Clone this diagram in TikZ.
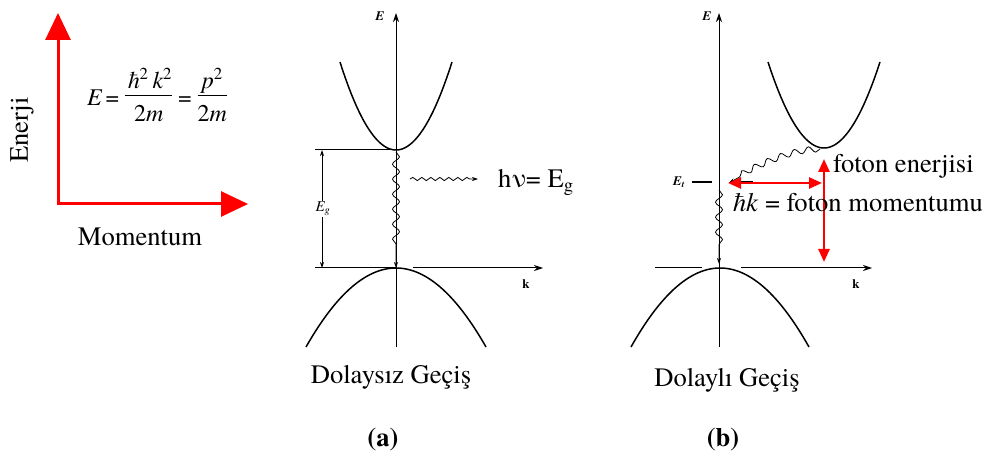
\documentclass[tikz,border=0pt]{standalone}
\usepackage{fontspec}
\setmainfont{TeX Gyre Termes}
\usetikzlibrary{arrows.meta,decorations.pathmorphing}
\begin{document}
\begin{tikzpicture}[x=1pt,y=-1pt,
  big/.style={font=\fontsize{26.6}{30}\selectfont, inner sep=0pt},
  lab/.style={font=\fontsize{13}{15}\selectfont\bfseries\itshape, inner sep=1pt},
  band/.style={line width=1.5pt},
  axline/.style={line width=1pt},
  ax/.style={line width=1pt,-{Stealth[length=9pt,width=6pt]}},
  smalltip/.style={-{Stealth[length=6pt,width=4pt]}},
  redaxes/.style={red,line width=3pt,{Triangle[length=27pt,width=25pt]}-{Triangle[length=27pt,width=25pt]}},
  redarr/.style={red,line width=2.5pt,{Triangle[length=13pt,width=11pt]}-{Triangle[length=13pt,width=11pt]}},
  wave/.style={decorate,decoration={snake,amplitude=3.5pt,segment length=15pt,post length=#1}},
  wave/.default=6pt
]
\useasboundingbox (0,0) rectangle (999,457);

% ---- left: red axes ----
\coordinate (eT) at (58,13);
\coordinate (o) at (58,204);
\coordinate (mR) at (248,204);
\draw[redaxes] (eT) -- (o) -- (mR);
\node[big, rotate=90] (enerji) at (22,130) {Enerji};
\node[big] (mom) at (140,237) {Momentum};
\node[font=\fontsize{24}{28}\selectfont, inner sep=0pt] (formula) at (157,99)
  {\itshape E\,\upshape = 
   \begin{tabular}{@{}c@{}}\itshape ħ\textsuperscript{\upshape 2}\,k\textsuperscript{\upshape 2}\\[-2pt]\hline\rule{0pt}{26pt}\upshape 2\itshape m\end{tabular}
   \upshape = 
   \begin{tabular}{@{}c@{}}\itshape p\textsuperscript{\upshape 2}\\[-2pt]\hline\rule{0pt}{26pt}\upshape 2\itshape m\end{tabular}};

% ---- panel (a) ----
\coordinate (aB) at (396,347);
\coordinate (aT) at (396,13);
\draw[ax] (aB) -- (aT);
\node[lab] (aE) at (380,16) {E};
\coordinate (aKl) at (315,268);
\coordinate (aK0) at (396,268);
\coordinate (aKs) at (413,268);
\coordinate (aKr) at (543,268);
\draw[axline] (aKl) -- (aK0);
\draw[ax] (aKs) -- (aKr);
\node[font=\fontsize{13}{15}\selectfont\bfseries] (ak) at (526,284) {k};
\coordinate (aCl) at (315,150);
\coordinate (aCm) at (395,150);
\draw[axline] (aCl) -- (aCm);
\draw[band] plot[domain=-56:56, samples=60] ({396+\x},{150-88*(\x/56)^2});
\draw[band] plot[domain=-90:90, samples=60] ({396+\x},{268+79*(\x/90)^2});
\coordinate (gT) at (322,150);
\coordinate (gB) at (322,268);
\draw[line width=0.8pt, {Stealth[length=6pt,width=4pt]}-{Stealth[length=6pt,width=4pt]}] (gT) -- (gB);
\node[lab, font=\fontsize{15}{17}\selectfont\itshape, fill=white, inner sep=1pt] (eg) at (323,209) {E\textsubscript{g}};
\coordinate (aw1) at (396,152);
\coordinate (aw2) at (396,268);
\draw[line width=0.8pt, wave=22pt, smalltip] (aw1) -- (aw2);
\coordinate (ph1) at (410,179);
\coordinate (ph2) at (478,179);
\draw[line width=0.8pt, decorate, decoration={snake,amplitude=1.6pt,segment length=9pt,post length=6pt}, smalltip] (ph1) -- (ph2);
\node[big, anchor=base west] (hv) at (498,188) {hν= E\textsubscript{g}};
\node[big, anchor=base] (capa) at (391,383) {Dolaysız Geçiş};
\node[big, anchor=base, font=\fontsize{26.6}{30}\selectfont\bfseries] (a) at (383,446) {(a)};

% ---- panel (b) ----
\coordinate (bB) at (719,347);
\coordinate (bT) at (719,13);
\draw[ax] (bB) -- (bT);
\node[lab] (bE) at (707,16) {E};
\coordinate (bKl) at (655,268);
\coordinate (bKm) at (702,268);
\coordinate (bKs) at (741,268);
\coordinate (bKr) at (872,268);
\draw[axline] (bKl) -- (bKm);
\draw[ax] (bKs) -- (bKr);
\node[font=\fontsize{13}{15}\selectfont\bfseries] (bk) at (856,284) {k};
\draw[band] plot[domain=-89:89, samples=60] ({720+\x},{268+79*(\x/89)^2});
\draw[band] plot[domain=-56:56, samples=60] ({824+\x},{148-86*(\x/56)^2});
\coordinate (et1) at (692,182);
\coordinate (et2) at (712,182);
\coordinate (et3) at (730,182);
\coordinate (et4) at (753,182);
\draw[line width=1.2pt] (et1) -- (et2);
\draw[line width=1.2pt] (et3) -- (et4);
\node[lab] (Et) at (679,182) {E\textsubscript{\itshape t}};
\coordinate (cbm) at (820,149);
\coordinate (etp) at (729,183);
\draw[line width=0.8pt, decorate, decoration={snake,amplitude=3pt,segment length=14pt,post length=8pt}, smalltip]
  (cbm) .. controls (795,150) and (765,162) .. (etp);
\coordinate (bw1) at (719,190);
\coordinate (bw2) at (719,264);
\draw[line width=0.8pt, wave=14pt, smalltip] (bw1) -- (bw2);
\coordinate (hk1) at (728,183);
\coordinate (hk2) at (822,183);
\draw[redarr] (hk1) -- (hk2);
\coordinate (fe1) at (824,159);
\coordinate (fe2) at (824,262);
\draw[redarr] (fe1) -- (fe2);
\node[big, anchor=base west] (fen) at (833,173) {foton enerjisi};
\node[big, anchor=base west] (fmo) at (730,212) {\textit{ħk} = foton momentumu};
\node[big, anchor=base] (capb) at (727,386) {Dolaylı Geçiş};
\node[big, anchor=base, font=\fontsize{26.6}{30}\selectfont\bfseries] (b) at (723,446) {(b)};
\end{tikzpicture}
\end{document}
